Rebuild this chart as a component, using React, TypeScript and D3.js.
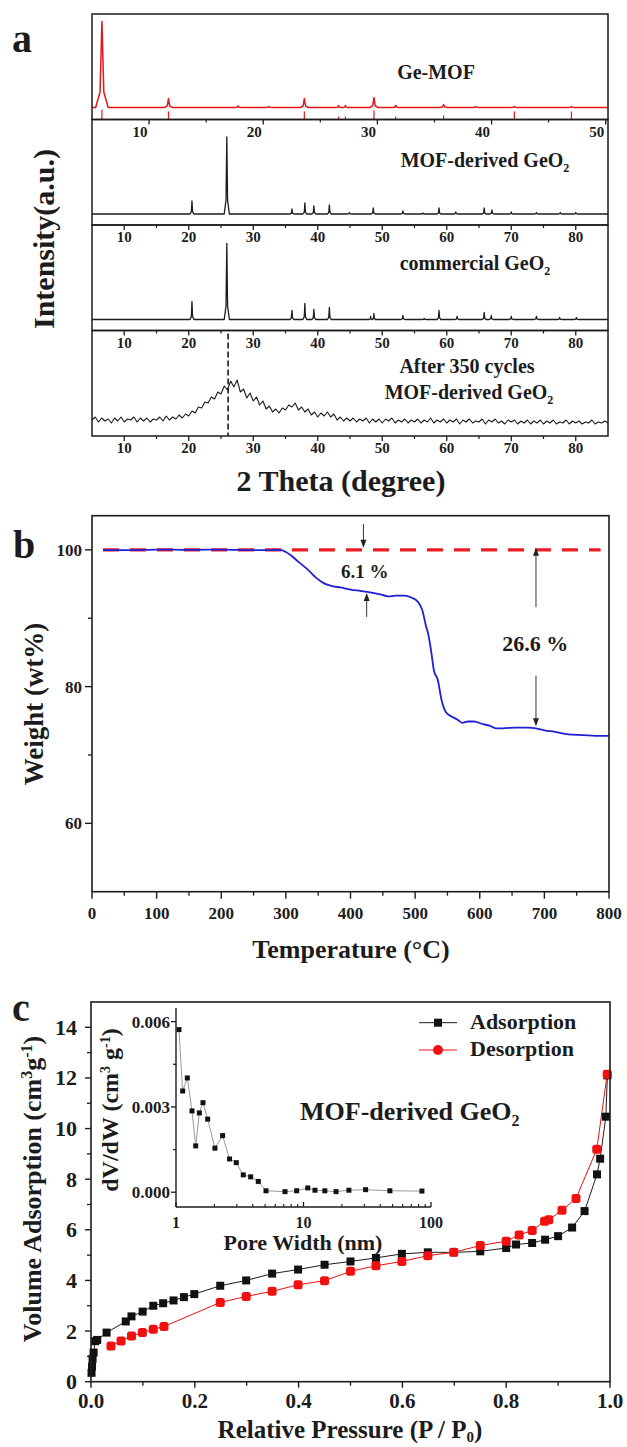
import React from 'react';
import * as d3 from 'd3';

// ---------- panel a : XRD patterns ----------
// [2theta, top, half width]  (top / base in band units, band height = 105.5)
const geMofBase = 12;
const geMofPeaks = [
  [5.87, 98, 0.55], [11.7, 21, 0.35], [17.8, 13.5, 0.3], [20.5, 13, 0.3],
  [23.6, 21, 0.35], [26.6, 14, 0.22], [27.2, 14, 0.22], [29.7, 22, 0.35],
  [31.6, 14, 0.3], [35.8, 15, 0.35], [38.6, 13, 0.3], [42.0, 13, 0.3], [47.0, 13, 0.3],
];
// reference sticks under the Ge-MOF pattern: [2theta, height]
const geMofSticks = [
  [5.87, 10], [11.7, 8], [23.6, 8], [26.6, 3], [27.2, 3], [29.7, 9],
  [31.6, 3], [35.8, 4], [42.0, 8], [47.0, 8],
];
const mofGeO2Base = 11;
const mofGeO2Peaks = [
  [20.5, 24, 0.3], [25.9, 88, 0.4], [36.0, 16, 0.3], [38.0, 22, 0.3], [39.4, 19, 0.3],
  [41.8, 20, 0.3], [44.9, 12.5, 0.3], [48.6, 17, 0.3], [53.2, 14, 0.3], [56.3, 12, 0.3],
  [58.8, 17, 0.3], [61.4, 13, 0.3], [65.8, 17, 0.3], [67.0, 15, 0.3], [70.0, 13, 0.3],
  [73.9, 12.5, 0.3], [77.6, 12.5, 0.3], [80.0, 12.5, 0.3],
];
const comGeO2Base = 11;
const comGeO2Peaks = [
  [20.5, 29, 0.3], [25.9, 87, 0.4], [36.0, 20, 0.3], [38.0, 27, 0.3], [39.4, 21, 0.3],
  [41.8, 23, 0.3], [48.2, 14, 0.2], [48.7, 17, 0.22], [53.2, 15, 0.3], [56.5, 12, 0.3],
  [58.8, 20, 0.3], [61.6, 14, 0.3], [65.8, 18, 0.3], [66.9, 15, 0.3], [70.0, 14, 0.3],
  [73.9, 14, 0.3], [77.5, 13, 0.3], [80.1, 13, 0.3],
];
// after 350 cycles, 2theta from 5 to 85 every 0.5 deg
const cycledStart = 5;
const cycledStep = 0.5;
const cycledIntensity = [
  16, 19, 14, 18, 15, 17, 13, 18, 15, 19, 14, 17, 16, 19, 14, 18, 15, 18, 14, 17,
  16, 19, 15, 20, 16, 19, 17, 21, 18, 22,
  20, 25, 23, 29, 28, 34, 33, 39, 37, 44,
  42, 50, 46, 55, 49, 56, 44, 47, 38, 43,
  35, 39, 31, 35, 27, 30, 24, 27, 23, 28,
  26, 31, 29, 33, 26, 29, 24, 27, 21, 24,
  19, 23, 20, 24, 19, 22, 16, 19, 15, 18,
  15, 18, 14, 17, 15, 18, 13, 17, 14, 17,
  13, 17, 15, 18, 13, 16, 14, 17, 13, 16,
  14, 17, 13, 16, 14, 18, 13, 16, 14, 17,
  13, 16, 14, 17, 12, 16, 14, 17, 13, 15,
  14, 17, 12, 16, 14, 17, 13, 15, 12, 16,
  14, 16, 12, 15, 13, 16, 12, 15, 13, 16,
  12, 15, 13, 16, 12, 14, 13, 16, 12, 15,
  13, 15, 12, 14, 13, 16, 12, 14, 13, 15,
  13,
];
const cycledRefLine = 26.1;
const sub1Major = [10, 20, 30, 40, 50];
const sub1Minor = [15, 25, 35, 45];
const geO2Major = [10, 20, 30, 40, 50, 60, 70, 80];
const geO2Minor = [15, 25, 35, 45, 55, 65, 75];

// ---------- panel b : TGA ----------
const tgaTemp = [
  17, 60, 100, 150, 200, 250, 291, 300, 309, 320, 334, 347, 359, 372, 384, 400,
  415, 430, 446, 458, 470, 483, 495, 501, 506, 511, 517, 520, 526, 529, 535, 541,
  548, 557, 565, 573, 582, 591, 605, 615, 625, 635, 656, 675, 687, 700, 715, 737,
  760, 780, 800,
];
const tgaWeight = [
  100, 99.95, 100.05, 100, 100.05, 99.95, 100, 99.7, 99.1, 98.2, 97.1, 95.9, 95.1, 94.7, 94.5, 94.2,
  94.0, 93.8, 93.5, 93.2, 93.3, 93.3, 93.0, 92.7, 92.2, 91.2, 88.8, 87.8, 84.4, 82.4, 81.0, 78.0,
  76.2, 75.6, 75.2, 74.7, 74.9, 74.9, 74.5, 74.3, 73.9, 73.9, 74.0, 74.0, 73.9, 73.6, 73.4, 73.0,
  72.9, 72.8, 72.8,
];
const refWeight = 100;
const refRange = [17, 787];
const tgaArrows = [
  { t: 420, from: 103.8, to: 100.3 },
  { t: 425, from: 90.2, to: 93.7 },
  { t: 687, from: 91.6, to: 100.3 },
  { t: 687, from: 81.6, to: 74.2 },
];
const lossLabels = [
  { t: 422, w: 95.9, text: '6.1 %', size: 19 },
  { t: 686, w: 85.2, text: '26.6 %', size: 22 },
];

// ---------- panel c : N2 isotherm ----------
const adsP = [
  0.001, 0.002, 0.003, 0.005, 0.008, 0.012, 0.030, 0.067, 0.078, 0.0995, 0.12, 0.139,
  0.159, 0.179, 0.199, 0.249, 0.299, 0.349, 0.399, 0.45, 0.50, 0.549, 0.599, 0.649,
  0.699, 0.75, 0.80, 0.819, 0.85, 0.875, 0.90, 0.927, 0.951, 0.975, 0.981, 0.992, 0.995,
];
const adsV = [
  0.35, 0.6, 0.9, 1.15, 1.6, 1.65, 1.94, 2.38, 2.58, 2.77, 3.0, 3.1,
  3.21, 3.34, 3.46, 3.79, 4.0, 4.27, 4.43, 4.62, 4.75, 4.89, 5.05, 5.11,
  5.11, 5.15, 5.28, 5.42, 5.48, 5.61, 5.75, 6.09, 6.74, 8.19, 8.81, 10.47, 12.1,
];
const desP = [
  0.0385, 0.0578, 0.078, 0.099, 0.12, 0.1406, 0.249, 0.299, 0.349, 0.399, 0.45, 0.50, 0.549,
  0.599, 0.649, 0.699, 0.75, 0.80, 0.825, 0.85, 0.874, 0.882, 0.9075, 0.9345, 0.9745, 0.9946,
];
const desV = [
  1.41, 1.61, 1.81, 1.94, 2.07, 2.18, 3.13, 3.37, 3.57, 3.83, 3.99, 4.36, 4.58,
  4.75, 4.98, 5.11, 5.38, 5.55, 5.8, 5.97, 6.34, 6.4, 6.77, 7.24, 9.18, 12.15,
];
// inset pore size distribution
const poreW = [
  1.055, 1.128, 1.227, 1.335, 1.427, 1.524, 1.628, 1.772, 2.02, 2.32, 2.63, 2.97, 3.37,
  3.85, 4.42, 5.08, 7.16, 8.84, 10.8, 12.3, 14.7, 18.0, 22.7, 30.7, 47.6, 84.9,
];
const dVdW = [
  0.00572, 0.00356, 0.00402, 0.00286, 0.00163, 0.00279, 0.00315, 0.00257, 0.00155, 0.00199,
  0.00117, 0.00104, 0.00061, 0.00054, 0.00038, 0.00005, 0.00002, 0.00005, 0.00015, 0.00007,
  0.00005, 0.00002, 0.00007, 0.00009, 0.00005, 0.00004,
];

const FONT = "'Liberation Serif','Times New Roman',Times,serif";
const INK = '#1c1c1c';

const T = ({ x, y, size, anchor = 'start', rot = 0, fill = INK, children }: any) => (
  <text x={x} y={y} fontSize={size} fontFamily={FONT} fontWeight={700} textAnchor={anchor} fill={fill}
    transform={rot ? `rotate(${rot} ${x} ${y})` : undefined}>{children}</text>
);

// peak list -> polyline points
function profile(base: number, peaks: number[][], lo: number, hi: number) {
  const pts: [number, number][] = [[lo, base]];
  peaks.forEach(([p, top, hw]) => {
    const k = base + (top - base) * 0.18;
    pts.push([p - hw, base], [p - hw * 0.3, k], [p, top], [p + hw * 0.3, k], [p + hw, base]);
  });
  pts.push([hi, base]);
  return pts;
}

function PanelA() {
  const L = 92, R = 608, top = 14, band = 105.5;
  const xMof = d3.scaleLinear().domain([5, 50.2]).range([L, R]);
  const xGe = d3.scaleLinear().domain([5, 85]).range([L, R]);
  const yBand = (k: number) => d3.scaleLinear().domain([0, band]).range([top + (k + 1) * band, top + k * band]);
  const mk = (x: any, y: any) => d3.line<[number, number]>().x(d => x(d[0])).y(d => y(d[1]));

  const series = [
    { x: xMof, pts: profile(geMofBase, geMofPeaks, 5, 50.2), color: '#e3161c', w: 1.5 },
    { x: xGe, pts: profile(mofGeO2Base, mofGeO2Peaks, 5, 85), color: INK, w: 1.3 },
    { x: xGe, pts: profile(comGeO2Base, comGeO2Peaks, 5, 85), color: INK, w: 1.3 },
    { x: xGe, pts: cycledIntensity.map((v, i) => [cycledStart + i * cycledStep, v] as [number, number]), color: INK, w: 1.1 },
  ];
  const y3 = yBand(3);
  return (
    <g>
      {series.map((s, k) => (
        <path key={k} d={mk(s.x, yBand(k))(s.pts) || ''} fill="none" stroke={s.color} strokeWidth={s.w} strokeLinejoin="round" />
      ))}
      {geMofSticks.map(([p, h], i) => (
        <line key={i} x1={xMof(p)} x2={xMof(p)} y1={yBand(0)(0)} y2={yBand(0)(h)} stroke="#e3161c" strokeWidth={1.2} />
      ))}
      <line x1={xGe(cycledRefLine)} x2={xGe(cycledRefLine)} y1={y3(band) + 3} y2={y3(0)} stroke={INK} strokeWidth={1.6} strokeDasharray="6 3" />
      {[0, 1, 2, 3].map(k => (
        <rect key={k} x={L} y={top + k * band} width={R - L} height={band} fill="none" stroke={INK} strokeWidth={1.5} />
      ))}
      {[0, 1, 2, 3].map(k => {
        const x = k === 0 ? xMof : xGe;
        const major = k === 0 ? sub1Major : geO2Major;
        const minor = k === 0 ? sub1Minor : geO2Minor;
        const by = top + (k + 1) * band;
        const off = k === 0 ? -9 : 0;
        return (
          <g key={k}>
            {major.map(v => <line key={'M' + v} x1={x(v)} x2={x(v)} y1={by} y2={by + 5} stroke={INK} strokeWidth={1.3} />)}
            {minor.map(v => <line key={'m' + v} x1={x(v)} x2={x(v)} y1={by} y2={by + 3} stroke={INK} strokeWidth={1.2} />)}
            {major.map(v => <T key={'t' + v} x={x(v) + off} y={by + 17} size={15} anchor="middle">{v}</T>)}
          </g>
        );
      })}
      <T x={436} y={79} size={20} anchor="middle">Ge-MOF</T>
      <T x={485} y={167} size={20} anchor="middle">MOF-derived GeO<tspan dy={5} fontSize={12}>2</tspan></T>
      <T x={475} y={270} size={20} anchor="middle">commercial GeO<tspan dy={5} fontSize={12}>2</tspan></T>
      <T x={467} y={373} size={20} anchor="middle">After 350 cycles</T>
      <T x={469} y={399} size={20} anchor="middle">MOF-derived GeO<tspan dy={5} fontSize={12}>2</tspan></T>
      <T x={54} y={239} size={30} anchor="middle" rot={-90}>Intensity(a.u.)</T>
      <T x={341} y={491} size={30} anchor="middle">2 Theta (degree)</T>
      <T x={12} y={52} size={40}>a</T>
    </g>
  );
}

function Arrow({ x, y1, y2 }: any) {
  const dir = y2 > y1 ? 1 : -1;
  return (
    <g>
      <line x1={x} x2={x} y1={y1} y2={y2 - dir * 6} stroke="#333" strokeWidth={1} />
      <path d={`M${x - 3},${y2 - dir * 8}L${x + 3},${y2 - dir * 8}L${x},${y2}Z`} fill="#222" />
    </g>
  );
}

function PanelB() {
  const L = 92, R = 609, top = 515.7, bot = 891.7;
  const x = d3.scaleLinear().domain([0, 800]).range([L, R]);
  const y = d3.scaleLinear().domain([50, 105]).range([bot, top]);
  const line = d3.line<number>().x((_, i) => x(tgaTemp[i])).y(d => y(d)).curve(d3.curveMonotoneX);
  const xMajor = d3.range(0, 801, 100);
  const xMinor = d3.range(50, 800, 100);
  return (
    <g>
      <line x1={x(refRange[0])} x2={x(refRange[1])} y1={y(refWeight)} y2={y(refWeight)} stroke="#ec1c24" strokeWidth={3.2} strokeDasharray="16 11" />
      <path d={line(tgaWeight) || ''} fill="none" stroke="#1f1fd6" strokeWidth={1.8} />
      {tgaArrows.map((a, i) => <Arrow key={i} x={x(a.t)} y1={y(a.from)} y2={y(a.to)} />)}
      {lossLabels.map((l, i) => <T key={i} x={x(l.t)} y={y(l.w)} size={l.size} anchor="middle">{l.text}</T>)}
      <rect x={L} y={top} width={R - L} height={bot - top} fill="none" stroke={INK} strokeWidth={1.6} />
      {xMajor.map(v => <line key={'M' + v} x1={x(v)} x2={x(v)} y1={bot} y2={bot + 7} stroke={INK} strokeWidth={1.4} />)}
      {xMinor.map(v => <line key={'m' + v} x1={x(v)} x2={x(v)} y1={bot} y2={bot + 4} stroke={INK} strokeWidth={1.3} />)}
      {xMajor.map(v => <T key={'t' + v} x={x(v)} y={919} size={17} anchor="middle">{v}</T>)}
      {[60, 80, 100].map(v => (
        <g key={v}>
          <line x1={L - 7} x2={L} y1={y(v)} y2={y(v)} stroke={INK} strokeWidth={1.4} />
          <T x={82} y={y(v) + 6} size={17} anchor="end">{v}</T>
        </g>
      ))}
      {[70, 90].map(v => <line key={v} x1={L - 4} x2={L} y1={y(v)} y2={y(v)} stroke={INK} strokeWidth={1.3} />)}
      <T x={43} y={704} size={27} anchor="middle" rot={-90}>Weight (wt%)</T>
      <T x={351} y={958} size={26} anchor="middle">Temperature (°C)</T>
      <T x={13} y={558} size={40}>b</T>
    </g>
  );
}

function PanelC() {
  const L = 91, R = 610, top = 1002, bot = 1381.7;
  const x = d3.scaleLinear().domain([0, 1]).range([L, R]);
  const y = d3.scaleLinear().domain([0, 15]).range([bot, top]);
  const adsLine = d3.line<number>().x((_, i) => x(adsP[i])).y(d => y(d));
  const desLine = d3.line<number>().x((_, i) => x(desP[i])).y(d => y(d));

  // inset
  const iL = 176, iR = 431, iTop = 1008, iBot = 1207;
  const xi = d3.scaleLog().domain([1, 100]).range([iL, iR]);
  const yi = d3.scaleLinear().domain([-0.00052, 0.00648]).range([iBot, iTop]);
  const psd = d3.line<number>().x((_, i) => xi(poreW[i])).y(d => yi(d));
  const logMinor = [2, 3, 4, 5, 6, 7, 8, 9, 20, 30, 40, 50, 60, 70, 80, 90];

  const sq = 8;
  return (
    <g>
      <path d={adsLine(adsV) || ''} fill="none" stroke={INK} strokeWidth={1} />
      <path d={desLine(desV) || ''} fill="none" stroke="#ee1111" strokeWidth={1} />
      {adsV.map((v, i) => <rect key={i} x={x(adsP[i]) - sq / 2} y={y(v) - sq / 2} width={sq} height={sq} fill="#111" />)}
      {desV.map((v, i) => <rect key={i} x={x(desP[i]) - 4.5} y={y(v) - 4.5} width={9} height={9} rx={2.5} fill="#f01010" />)}
      <rect x={L} y={top} width={R - L} height={bot - top} fill="none" stroke={INK} strokeWidth={1.6} />
      {d3.range(0, 1.01, 0.2).map(v => (
        <g key={v}>
          <line x1={x(v)} x2={x(v)} y1={bot} y2={bot + 6} stroke={INK} strokeWidth={1.4} />
          <T x={x(v)} y={1408} size={21} anchor="middle">{v.toFixed(1)}</T>
        </g>
      ))}
      {d3.range(0.1, 1, 0.2).map(v => <line key={v} x1={x(v)} x2={x(v)} y1={bot} y2={bot + 4} stroke={INK} strokeWidth={1.3} />)}
      {d3.range(0, 15, 2).map(v => (
        <g key={v}>
          <line x1={L - 6} x2={L} y1={y(v)} y2={y(v)} stroke={INK} strokeWidth={1.4} />
          <T x={77} y={y(v) + 7.5} size={22} anchor="end">{v}</T>
        </g>
      ))}
      {d3.range(1, 15, 2).map(v => <line key={v} x1={L - 4} x2={L} y1={y(v)} y2={y(v)} stroke={INK} strokeWidth={1.3} />)}

      {/* inset */}
      <path d={psd(dVdW) || ''} fill="none" stroke="#9a9a9a" strokeWidth={1} />
      {dVdW.map((v, i) => <rect key={i} x={xi(poreW[i]) - 2.5} y={yi(v) - 2.5} width={5} height={5} fill="#111" />)}
      <line x1={iL} x2={iL} y1={iTop} y2={iBot} stroke={INK} strokeWidth={1.4} />
      <line x1={iL} x2={iR} y1={iBot} y2={iBot} stroke={INK} strokeWidth={1.4} />
      {[0, 0.003, 0.006].map(v => (
        <g key={v}>
          <line x1={iL - 5} x2={iL} y1={yi(v)} y2={yi(v)} stroke={INK} strokeWidth={1.3} />
          <T x={170} y={yi(v) + 6} size={17} anchor="end">{v.toFixed(3)}</T>
        </g>
      ))}
      {[0.0015, 0.0045].map(v => <line key={v} x1={iL - 3} x2={iL} y1={yi(v)} y2={yi(v)} stroke={INK} strokeWidth={1.2} />)}
      {[1, 10, 100].map(v => (
        <g key={v}>
          <line x1={xi(v)} x2={xi(v)} y1={iBot} y2={iBot - 5} stroke={INK} strokeWidth={1.3} />
          <T x={xi(v)} y={1228} size={16} anchor="middle">{v}</T>
        </g>
      ))}
      {logMinor.map(v => <line key={v} x1={xi(v)} x2={xi(v)} y1={iBot} y2={iBot - 3} stroke={INK} strokeWidth={1.1} />)}
      <T x={303} y={1250} size={22} anchor="middle">Pore Width (nm)</T>
      <T x={118} y={1110} size={24} anchor="middle" rot={-90}>
        dV/dW (cm<tspan dy={-8} fontSize={14}>3</tspan><tspan dy={8}> g</tspan><tspan dy={-8} fontSize={14}>-1</tspan><tspan dy={8}>)</tspan>
      </T>

      {/* legend */}
      <line x1={419} x2={457} y1={1022.7} y2={1022.7} stroke={INK} strokeWidth={1} />
      <rect x={438 - sq / 2} y={1022.7 - sq / 2} width={sq} height={sq} fill="#111" />
      <T x={470} y={1029} size={22}>Adsorption</T>
      <line x1={419} x2={457} y1={1050} y2={1050} stroke="#ee1111" strokeWidth={1} />
      <circle cx={438} cy={1050} r={5} fill="#f01010" />
      <T x={470} y={1056} size={22}>Desorption</T>

      <T x={300} y={1120} size={26}>MOF-derived GeO<tspan dy={6} fontSize={16}>2</tspan></T>
      <T x={41} y={1189} size={26} anchor="middle" rot={-90}>
        Volume Adsorption (cm<tspan dy={-9} fontSize={16}>3</tspan><tspan dy={9}>g</tspan><tspan dy={-9} fontSize={16}>-1</tspan><tspan dy={9}>)</tspan>
      </T>
      <T x={350} y={1438} size={25} anchor="middle">Relative Pressure (P / P<tspan dy={4} fontSize={15}>0</tspan><tspan dy={-4}>)</tspan></T>
      <T x={12} y={1021} size={40}>c</T>
    </g>
  );
}

export default function App() {
  return (
    <svg width={627} height={1447} style={{ position: 'absolute', left: 0, top: 0, background: '#fff' }}>
      <rect width={627} height={1447} fill="#fff" />
      <PanelA />
      <PanelB />
      <PanelC />
    </svg>
  );
}
